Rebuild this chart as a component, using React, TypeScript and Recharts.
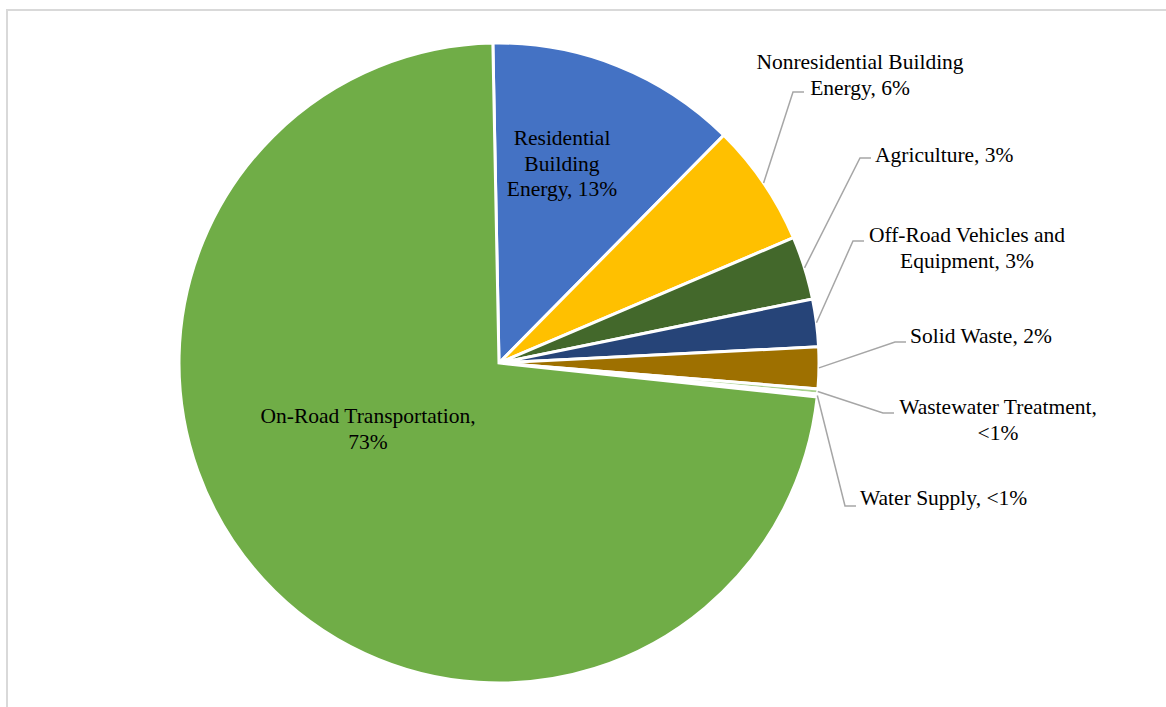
import { PieChart, Pie, Cell } from "recharts";

// sources, clockwise from the top
const sectors = [
  "Residential Building Energy",
  "Nonresidential Building Energy",
  "Agriculture",
  "Off-Road Vehicles and Equipment",
  "Solid Waste",
  "Wastewater Treatment",
  "Water Supply",
  "On-Road Transportation",
];
const shares = [12.7, 6.2, 3.2, 2.4, 2.1, 0.25, 0.15, 73.0];
const labelLines = [
  ["Residential", "Building", "Energy, 13%"],
  ["Nonresidential Building", "Energy, 6%"],
  ["Agriculture, 3%"],
  ["Off-Road Vehicles and", "Equipment, 3%"],
  ["Solid Waste, 2%"],
  ["Wastewater Treatment,", "<1%"],
  ["Water Supply, <1%"],
  ["On-Road Transportation,", "73%"],
];
const colors = [
  "#4472C4",
  "#FFC000",
  "#43682B",
  "#264478",
  "#9E7000",
  "#A9D18E",
  "#8FAADC",
  "#70AD47",
];

const chartData = sectors.map((name, i) => ({ name, value: shares[i] }));

// label placement relative to pie centre (inside labels have no elbow)
const layout = [
  { inside: true, tx: 63, ty: -225, anchor: "middle" },
  { elbow: [294, -271], tx: 361, ty: -301, anchor: "middle" },
  { elbow: [361, -205], tx: 376, ty: -208, anchor: "start" },
  { elbow: [354, -122], tx: 468, ty: -128, anchor: "middle" },
  { elbow: [396, -21], tx: 412, ty: -27, anchor: "start" },
  { elbow: [384, 50], tx: 499, ty: 44, anchor: "middle" },
  { elbow: [346, 143], tx: 361, ty: 135, anchor: "start" },
  { inside: true, tx: -131, ty: 53, anchor: "middle" },
];

const FONT = "'Liberation Serif', 'Times New Roman', serif";
const LINE_H = 25.5;
const RAD = Math.PI / 180;

const renderLabel = (props: any) => {
  const { cx, cy, midAngle, outerRadius, index } = props;
  const cfg: any = layout[index];
  const lines = labelLines[index];
  let connector = null;
  let textX = cx + cfg.tx;
  if (!cfg.inside) {
    const sx = cx + outerRadius * Math.cos(-midAngle * RAD);
    const sy = cy + outerRadius * Math.sin(-midAngle * RAD);
    const ex = cx + cfg.elbow[0];
    const ey = cy + cfg.elbow[1];
    connector = (
      <polyline
        points={`${sx},${sy} ${ex},${ey} ${ex + 11},${ey}`}
        fill="none"
        stroke="#A6A6A6"
        strokeWidth={1.5}
      />
    );
    if (cfg.anchor === "start") textX = ex + 15;
  }
  return (
    <g key={`lbl-${index}`}>
      {connector}
      <text
        x={textX}
        y={cy + cfg.ty}
        textAnchor={cfg.anchor}
        dominantBaseline="central"
        fill="#000"
        style={{ fontFamily: FONT, fontSize: 21.5 }}
      >
        {lines.map((ln, j) => (
          <tspan key={j} x={textX} dy={j === 0 ? 0 : LINE_H}>
            {ln}
          </tspan>
        ))}
      </text>
    </g>
  );
};

export default function App() {
  return (
    <div
      style={{
        position: "fixed",
        left: 0,
        top: 0,
        width: 1166,
        height: 707,
        overflow: "hidden",
        background: "#fff",
      }}
    >
      <div
        style={{
          position: "absolute",
          left: 6,
          top: 9,
          width: 1200,
          height: 750,
          borderTop: "2px solid #D9D9D9",
          borderLeft: "2px solid #D9D9D9",
        }}
      />
      <div style={{ position: "absolute", left: 0, top: 0 }}>
        <PieChart
          width={1166}
          height={707}
          margin={{ top: 0, right: 0, bottom: 0, left: 0 }}
        >
          <Pie
            data={chartData}
            dataKey="value"
            nameKey="name"
            cx={499}
            cy={363}
            outerRadius={320}
            startAngle={91.1}
            endAngle={-268.9}
            stroke="#fff"
            strokeWidth={3}
            label={renderLabel}
            labelLine={false}
            isAnimationActive={false}
          >
            {chartData.map((d, i) => (
              <Cell key={d.name} fill={colors[i]} />
            ))}
          </Pie>
        </PieChart>
      </div>
    </div>
  );
}
